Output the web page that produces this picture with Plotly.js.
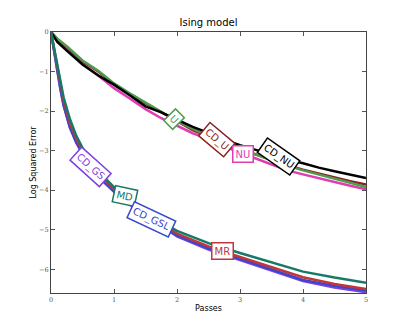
<!DOCTYPE html>
<html>
<head>
<meta charset="utf-8">
<script src="https://cdn.plot.ly/plotly-3.0.1.min.js"></script>
<style>
  body { margin: 0; background: #fff; }
  #isingChart { width: 407px; height: 326px; }
</style>
</head>
<body>
<div id="isingChart"></div>
<script>
// slow group (uniform / non-uniform sampling)
const passesSlow = [0, 0.1, 0.25, 0.5, 0.75, 1, 1.25, 1.5, 1.75, 2, 2.25, 2.5, 2.75, 3, 3.25, 3.5, 3.75, 4, 4.25, 4.5, 4.75, 5];
const errU    = [0, -0.17, -0.36, -0.72, -0.98, -1.3, -1.55, -1.78, -2.02, -2.25, -2.45, -2.62, -2.8, -2.97, -3.1, -3.24, -3.38, -3.5, -3.6, -3.7, -3.81, -3.92];
const errCDU  = [0, -0.18, -0.38, -0.74, -1.0, -1.32, -1.57, -1.8, -2.04, -2.27, -2.48, -2.64, -2.78, -2.96, -3.1, -3.24, -3.37, -3.48, -3.58, -3.68, -3.77, -3.86];
const errNU   = [0, -0.2, -0.42, -0.8, -1.1, -1.42, -1.68, -1.95, -2.18, -2.38, -2.56, -2.7, -2.87, -3.06, -3.2, -3.36, -3.5, -3.6, -3.7, -3.79, -3.89, -3.98];
const errCDNU = [0, -0.25, -0.47, -0.82, -1.1, -1.33, -1.6, -1.88, -2.03, -2.22, -2.4, -2.55, -2.72, -2.86, -2.98, -3.1, -3.22, -3.32, -3.43, -3.52, -3.6, -3.69];

// fast group (gibbs / message passing)
const passesFast = [0, 0.05, 0.1, 0.15, 0.2, 0.3, 0.4, 0.5, 0.6, 0.8, 1.0, 1.25, 1.5, 1.75, 2.0, 2.5, 3.0, 3.5, 4.0, 4.5, 5.0];
const errCDGS  = [0, -0.5, -1.0, -1.45, -1.86, -2.42, -2.8, -3.1, -3.37, -3.74, -4.04, -4.37, -4.64, -4.92, -5.17, -5.5, -5.77, -6.03, -6.3, -6.46, -6.58];
const errCDGSL = [0, -0.5, -1.0, -1.45, -1.85, -2.41, -2.78, -3.08, -3.35, -3.72, -4.02, -4.35, -4.62, -4.9, -5.15, -5.47, -5.74, -6.0, -6.27, -6.42, -6.54];
const errMR    = [0, -0.45, -0.92, -1.35, -1.75, -2.3, -2.7, -3.0, -3.28, -3.67, -3.98, -4.3, -4.58, -4.85, -5.1, -5.42, -5.69, -5.95, -6.2, -6.37, -6.5];
const errMD    = [0, -0.42, -0.85, -1.27, -1.65, -2.2, -2.62, -2.93, -3.2, -3.6, -3.92, -4.25, -4.52, -4.8, -5.03, -5.34, -5.59, -5.83, -6.06, -6.21, -6.34];

// inline label positions along each curve
const labelNames  = ["U", "CD_U", "NU", "CD_NU", "CD_GS", "MD", "CD_GSL", "MR"];
const labelPasses = [1.95, 2.63, 3.04, 3.61, 0.62, 1.17, 1.6, 2.73];

function interp(xs, ys, x) {
  for (let i = 1; i < xs.length; i++) {
    if (x <= xs[i]) {
      const t = (x - xs[i - 1]) / (xs[i] - xs[i - 1]);
      return ys[i - 1] + t * (ys[i] - ys[i - 1]);
    }
  }
  return ys[ys.length - 1];
}

const series = {
  "U":      { x: passesSlow, y: errU,     color: "#4f9c4f", angle: 45 },
  "CD_U":   { x: passesSlow, y: errCDU,   color: "#8c1f1f", angle: 40 },
  "NU":     { x: passesSlow, y: errNU,    color: "#e03cb4", angle: 0 },
  "CD_NU":  { x: passesSlow, y: errCDNU,  color: "#000000", angle: 35 },
  "CD_GS":  { x: passesFast, y: errCDGS,  color: "#8040e0", angle: 42 },
  "MD":     { x: passesFast, y: errMD,    color: "#167a68", angle: 12 },
  "CD_GSL": { x: passesFast, y: errCDGSL, color: "#3848c8", angle: 25 },
  "MR":     { x: passesFast, y: errMR,    color: "#c0363c", angle: 0 },
};

const drawOrder = ["NU", "CD_U", "U", "CD_NU", "CD_GS", "CD_GSL", "MR", "MD"];
const data = drawOrder.map(name => ({
  x: series[name].x,
  y: series[name].y,
  name: name,
  type: "scatter",
  mode: "lines",
  line: { color: series[name].color, width: 2.5 },
  hoverinfo: "skip",
}));

const annotations = labelNames.map((name, i) => {
  const s = series[name];
  return {
    x: labelPasses[i],
    y: interp(s.x, s.y, labelPasses[i]),
    xref: "x",
    yref: "y",
    text: name,
    showarrow: false,
    textangle: s.angle,
    font: { family: "DejaVu Sans", size: 10, color: s.color },
    bgcolor: "#ffffff",
    bordercolor: s.color,
    borderwidth: 1.5,
    borderpad: 2,
  };
});

const tickFont = { family: "DejaVu Serif", size: 6.5, color: "#555" };

const layout = {
  width: 407,
  height: 326,
  margin: { l: 51, r: 41, t: 32, b: 33 },
  paper_bgcolor: "#ffffff",
  plot_bgcolor: "#ffffff",
  showlegend: false,
  title: {
    text: "Ising model",
    font: { family: "DejaVu Sans", size: 10, color: "#000" },
    x: 0.5, xref: "paper",
    y: 0.93, yref: "container", yanchor: "middle",
  },
  xaxis: {
    range: [0, 5],
    tickvals: [0, 1, 2, 3, 4, 5],
    ticktext: ["0", "1", "2", "3", "4", "5"],
    ticks: "inside", ticklen: 4, tickcolor: "#555",
    showline: true, linecolor: "#444", linewidth: 1, mirror: "ticks",
    showgrid: false, zeroline: false,
    tickfont: tickFont,
    title: { text: "Passes", font: { family: "DejaVu Sans", size: 8, color: "#000" }, standoff: 2 },
  },
  yaxis: {
    range: [-6.6, 0],
    tickvals: [0, -1, -2, -3, -4, -5, -6],
    ticktext: ["0", "\u22121", "\u22122", "\u22123", "\u22124", "\u22125", "\u22126"],
    ticks: "inside", ticklen: 4, tickcolor: "#555",
    showline: true, linecolor: "#444", linewidth: 1, mirror: "ticks",
    showgrid: false, zeroline: false,
    tickfont: tickFont,
    title: { text: "Log Squared Error", font: { family: "DejaVu Sans", size: 8, color: "#000" }, standoff: 1 },
  },
  annotations: annotations,
};

Plotly.newPlot("isingChart", data, layout, { staticPlot: true });
</script>
</body>
</html>
